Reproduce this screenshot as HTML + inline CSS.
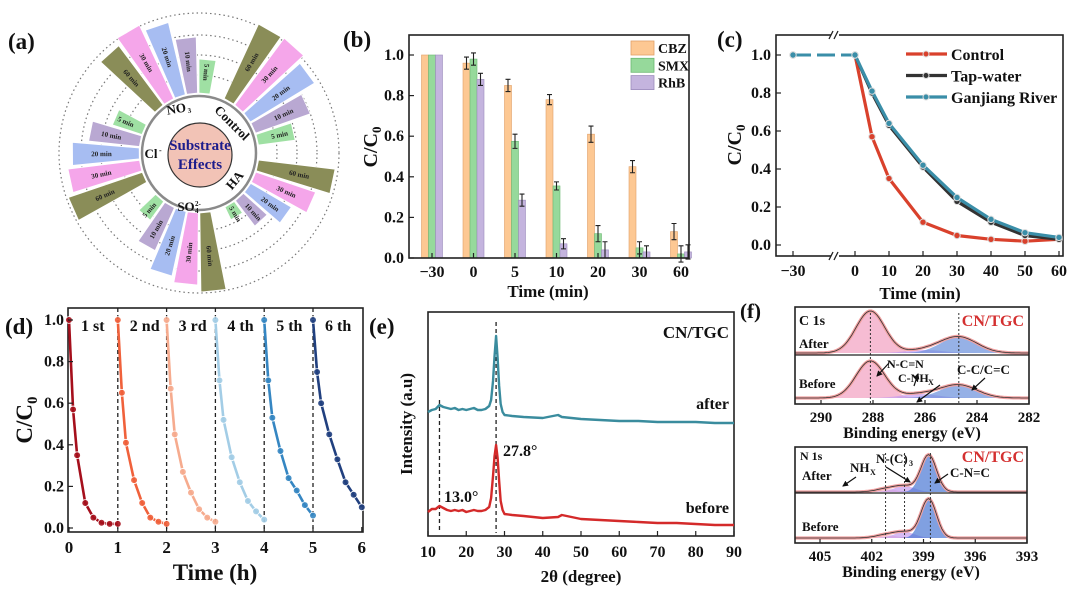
<!DOCTYPE html>
<html><head><meta charset="utf-8">
<style>
html,body{margin:0;padding:0;background:#fff;}
svg{display:block;font-family:"Liberation Serif",serif;font-weight:bold;}
</style></head>
<body>
<svg id="fig" width="1080" height="591" viewBox="0 0 1080 591" xmlns="http://www.w3.org/2000/svg">
<rect x="0" y="0" width="1080" height="591" fill="#fff"/>
<g id="ga"></g>
<g id="gb"></g>
<g id="gc"></g>
<g id="gd"></g>
<g id="ge"></g>
<g id="gf"></g>
</svg>
<script>
// ---------- DATA ----------
const aGroups = ["Control","HA","SO4","Cl","NO3"];
const aTimes = ["60 min","30 min","20 min","10 min","5 min"];
const aControl = [142,143,135,118,97];
const aHA = [137,123,107,92,74];
const aSO4 = [139,132,126,107,83];
const aCl = [138,132,127,111,91];
const aNO3 = [134,141,134,116,94];
const bCats = ["\u221230","0","5","10","20","30","60"];
const bCBZ = [1,0.96,0.85,0.78,0.61,0.45,0.13];
const bSMX = [1,0.98,0.575,0.355,0.12,0.05,0.02];
const bRhB = [1,0.88,0.285,0.07,0.04,0.03,0.03];
const bCBZerr = [0,0.03,0.03,0.025,0.04,0.03,0.04];
const bSMXerr = [0,0.03,0.035,0.02,0.04,0.03,0.04];
const bRhBerr = [0,0.03,0.03,0.025,0.04,0.03,0.035];
const bYTicks = [0,0.2,0.4,0.6,0.8,1.0];
const cTimes = [-30,0,5,10,20,30,40,50,60];
const cControl = [1,1,0.57,0.35,0.12,0.05,0.03,0.02,0.03];
const cTap = [1,1,0.80,0.63,0.41,0.23,0.12,0.05,0.03];
const cRiver = [1,1,0.81,0.64,0.42,0.25,0.135,0.065,0.04];
const cXTicks = [-30,0,10,20,30,40,50,60];
const dTimes = [0,5,10,20,30,40,50,60];
const dCycle1 = [1,0.57,0.35,0.12,0.05,0.025,0.02,0.02];
const dCycle2 = [1,0.65,0.41,0.23,0.12,0.05,0.03,0.02];
const dCycle3 = [1,0.67,0.45,0.27,0.17,0.09,0.05,0.03];
const dCycle4 = [1,0.71,0.52,0.34,0.22,0.13,0.08,0.04];
const dCycle5 = [1,0.71,0.53,0.37,0.24,0.18,0.11,0.06];
const dCycle6 = [1,0.75,0.60,0.45,0.33,0.22,0.16,0.10];
const dLabels = ["1 st","2 nd","3 rd","4 th","5 th","6 th"];
const eAngles = [10,11,12,13,14,15,16,17,18,19,20,21,22,23,24,25,26,26.5,27,27.4,27.8,28.2,28.6,29,29.5,30,32,35,40,44,45,50,55,60,65,70,75,80,85,90];
const eAfter = [124,126,127,131,129,128,127,128,126,127,126,127,128,126,126,127,130,136,155,180,200,178,150,132,124,121,120,119,118,121,119,117,116,115,115,114,114,114,113,113];
const eBefore = [24,27,27,30,28,26,25,26,25,26,24,25,26,25,25,26,29,38,60,80,91,78,55,35,26,22,21,20,18,19,21,17,16,15,14,13,13,12,11,11];
const fC1sAfter = [[288.1,42,0.55],[286.0,3,0.7],[284.7,16,0.7]];
const fC1sBefore = [[288.1,37,0.55],[286.2,4,0.7],[284.7,13,0.7]];
const fN1sAfter = [[401.2,3,0.6],[400.1,6,0.6],[398.7,37,0.45]];
const fN1sBefore = [[401.2,3,0.6],[400.1,6,0.6],[398.7,39,0.45]];

const NS="http://www.w3.org/2000/svg";
function mk(parent,tag,attrs,txt){const e=document.createElementNS(NS,tag);for(const k in attrs)e.setAttribute(k,attrs[k]);if(txt!==undefined)e.textContent=txt;parent.appendChild(e);return e;}
function T(parent,x,y,s,size,anchor,fill,extra){const e=mk(parent,"text",Object.assign({x:x,y:y,"font-size":size,"text-anchor":anchor||"start",fill:fill||"#111"},extra||{}),s);return e;}
function frame(g,x0,y0,x1,y1){const r=mk(g,"rect",{x:x0,y:y0,width:x1-x0,height:y1-y0,fill:"none",stroke:"#222","stroke-width":1.6});

return r;}

// ---------- PANEL A ----------
(function(){
const g=document.getElementById("ga");
const cx=199,cy=153;
const lab=T(g,8,49,"(a)",23,"start","#111");


[78,98,118,140].forEach(r=>{const c=mk(g,"circle",{cx:cx,cy:cy,r:r,fill:"none",stroke:"#777","stroke-width":1.2,"stroke-dasharray":"1.5 3"});

});
const cols=["#8a8d58","#f5a6ea","#a7bdf2","#b9a8d2","#9fe0a3"];
const groupVals=[aControl,aHA,aSO4,aCl,aNO3];
const r0=60,hw=5.2;
groupVals.forEach((vals,gi)=>{
 vals.forEach((r1,j)=>{
  const th=30+72*gi+11.8*j;
  const p=(a,r)=>{const rad=(a-90)*Math.PI/180;return [cx+r*Math.cos(rad),cy+r*Math.sin(rad)];};
  const A=p(th-hw,r0),B=p(th-hw,r1),C=p(th+hw,r1),D=p(th+hw,r0);
  const w=mk(g,"path",{d:`M${A}L${B}L${C}L${D}Z`,fill:cols[j],stroke:"#fff","stroke-width":0.8});
  
  
  const m=p(th,(r0+r1)/2+4);
  const rot=th<=180?th-90:th+90;
  const t=T(g,m[0],m[1]+2.5,aTimes[j],7,"middle","#222",{transform:`rotate(${rot} ${m[0]} ${m[1]})`});
  
  
 });
});
const ring=mk(g,"circle",{cx:cx,cy:cy,r:57,fill:"#fff",stroke:"#8a8a8a","stroke-width":2.5});


const core=mk(g,"circle",{cx:cx+1,cy:cy+2,r:32,fill:"#f2c3b6",stroke:"#333","stroke-width":1.2});


const t1=T(g,cx+1,cy-3,"Substrate",15,"middle","#1c1c8c");


const t2=T(g,cx+1,cy+16,"Effects",15,"middle","#1c1c8c");


const gl=[["Control",229,126,45,13],["HA",238,183,-50,13],["SO",186,211,0,13],["Cl",151,158,0,13],["NO",177,113,-10,13]];
gl.forEach(d=>{const t=T(g,d[1],d[2],d[0],d[4],"middle","#111",{transform:`rotate(${d[3]} ${d[1]} ${d[2]})`});

});
const s1=T(g,195,206,"2-",7,"start","#111");
const s2=T(g,195,213,"4",7,"start","#111");
const s3=T(g,159,153,"-",8,"start","#111");
const s4=T(g,188,115,"3",7,"start","#111",{transform:"rotate(-10 177 113)"});
})();

// ---------- PANEL B ----------
(function(){
const g=document.getElementById("gb");
const x0=409,x1=689,yt=35,yb=258,y1=55;
const ys=v=>yb-(yb-y1)*v;
const xc=i=>432+41.5*i;
const lab=T(g,343,47,"(b)",23);
const series=[[bCBZ,bCBZerr,"#fdc893","#e0a068","cbz"],[bSMX,bSMXerr,"#96d99b","#6bb872","smx"],[bRhB,bRhBerr,"#c4b4de","#9c8cbc","rhb"]];
const bw=7;
series.forEach((s,si)=>{
 s[0].forEach((v,i)=>{
  const x=xc(i)+(si-1)*bw-bw/2;
  const r=mk(g,"rect",{x:x,y:ys(v),width:bw,height:yb-ys(v),fill:s[2],stroke:s[3],"stroke-width":0.6});
  
  
  const e=s[1][i];
  if(e>0){const cxp=x+bw/2;
   const el=mk(g,"path",{d:`M${cxp},${ys(v+e)}V${ys(v-e)}M${cxp-2.5},${ys(v+e)}H${cxp+2.5}M${cxp-2.5},${ys(v-e)}H${cxp+2.5}`,stroke:"#222","stroke-width":1.1,fill:"none"});
   
   }
 });
});
frame(g,x0,yt,x1,yb);
bYTicks.forEach(v=>{const tk=mk(g,"line",{x1:x0,x2:x0+5,y1:ys(v),y2:ys(v),stroke:"#222","stroke-width":1.2});

const t=T(g,x0-5,ys(v)+5,v.toFixed(1),16,"end");});
bCats.forEach((c,i)=>{const tk=mk(g,"line",{x1:xc(i),x2:xc(i),y1:yb,y2:yb-5,stroke:"#222","stroke-width":1.2});

const t=T(g,xc(i),yb+19,c,16,"middle");});
const xt=T(g,548,297,"Time (min)",17,"middle");
const yt2=mk(g,"text",{x:0,y:0,"font-size":20,"text-anchor":"middle",transform:"translate(377,147) rotate(-90)",fill:"#111"});
yt2.innerHTML='C/C<tspan font-size="13" dy="4">0</tspan>';

const names=["CBZ","SMX","RhB"];
series.forEach((s,si)=>{const y=41+17.3*si;
 const r=mk(g,"rect",{x:631,y:y,width:23,height:14,fill:s[2],stroke:s[3],"stroke-width":0.8});
 
 const t=T(g,658,y+12,names[si],14);});
})();

// ---------- PANEL C ----------
(function(){
const g=document.getElementById("gc");
const x0=776,x1=1063,yt=35,yb=256;
const ys=v=>245-190*v;
const xs=t=>t<0?793:855+3.4*t;
const lab=T(g,717,47,"(c)",23);
frame(g,x0,yt,x1,yb);
[[835,yt],[835,yb]].forEach(p=>{const w=mk(g,"rect",{x:p[0]-4,y:p[1]-3,width:8,height:6,fill:"#fff"});
const b=mk(g,"path",{d:`M${p[0]-6},${p[1]+4}L${p[0]-2},${p[1]-4}M${p[0]-1},${p[1]+4}L${p[0]+3},${p[1]-4}`,stroke:"#222","stroke-width":1.3,fill:"none"});});
const ser=[[cRiver,"#3a8ea8","ganjiang-river"],[cTap,"#333","tap-water"],[cControl,"#d9412c","control"]];
[ser[2],ser[1],ser[0]].forEach(s=>{
 const pts=s[0].map((v,i)=>[xs(cTimes[i]),ys(v)]);
 const dash=mk(g,"line",{x1:pts[0][0],y1:pts[0][1],x2:pts[1][0],y2:pts[1][1],stroke:s[1],"stroke-width":3,"stroke-dasharray":"18 6"});
 
 const pl=mk(g,"polyline",{points:pts.slice(1).map(p=>p.join(",")).join(" "),fill:"none",stroke:s[1],"stroke-width":3.2});
 
 pts.forEach(p=>{const c=mk(g,"circle",{cx:p[0],cy:p[1],r:3.2,fill:s[1],stroke:"#ddd","stroke-width":1});
 });
});
bYTicks.forEach(v=>{const tk=mk(g,"line",{x1:x0,x2:x0+5,y1:ys(v),y2:ys(v),stroke:"#222","stroke-width":1.2});
const t=T(g,x0-5,ys(v)+5,v.toFixed(1),16,"end");});
cXTicks.forEach(v=>{const x=xs(v);const tk=mk(g,"line",{x1:x,x2:x,y1:yb,y2:yb-5,stroke:"#222","stroke-width":1.2});
const t=T(g,x,yb+20,v<0?"\u2212"+(-v):String(v),16,"middle");});
const xt=T(g,920,299,"Time (min)",17,"middle");
const yt2=mk(g,"text",{x:0,y:0,"font-size":20,"text-anchor":"middle",transform:"translate(741,145) rotate(-90)",fill:"#111"});
yt2.innerHTML='C/C<tspan font-size="13" dy="4">0</tspan>';
const ln=[["Control","#d9412c"],["Tap-water","#333"],["Ganjiang River","#3a8ea8"]];
ln.forEach((l,i)=>{const y=54+21.5*i;
 const s=mk(g,"line",{x1:906,x2:947,y1:y,y2:y,stroke:l[1],"stroke-width":3.2});
 const c=mk(g,"circle",{cx:926,cy:y,r:3,fill:l[1],stroke:"#ddd","stroke-width":1});
 const t=T(g,951,y+6,l[0],16);});
})();

// ---------- PANEL D ----------
(function(){
const g=document.getElementById("gd");
const x0=68,x1=363,yt=308,yb=532;
const xs=h=>69+48.8*h, ys=v=>528-208*v;
const lab=T(g,5,334,"(d)",23);
frame(g,x0,yt,x1,yb);
const cyc=[dCycle1,dCycle2,dCycle3,dCycle4,dCycle5,dCycle6];
const cols=["#a50f1c","#f0613b","#f6ab8e","#a3cde6","#3586c2","#21407f"];
[1,2,3,4,5].forEach(k=>{const l=mk(g,"line",{x1:xs(k),x2:xs(k),y1:yt,y2:yb,stroke:"#222","stroke-width":1.3,"stroke-dasharray":"4 3"});});
cyc.forEach((c,k)=>{
 const pts=c.map((v,i)=>[xs(k+dTimes[i]/60),ys(v)]);
 const pl=mk(g,"polyline",{points:pts.map(p=>p.join(",")).join(" "),fill:"none",stroke:cols[k],"stroke-width":2.6});
 
 pts.forEach(p=>{const m=mk(g,"circle",{cx:p[0],cy:p[1],r:3.4,fill:cols[k],stroke:"#fff","stroke-width":0.8,"fill-opacity":0.9});});
 const t=T(g,xs(k)+12,331,dLabels[k],16);
});
bYTicks.forEach(v=>{const tk=mk(g,"line",{x1:x0,x2:x0+5,y1:ys(v),y2:ys(v),stroke:"#222","stroke-width":1.2});
const t=T(g,x0-4,ys(v)+5,v.toFixed(1),16,"end");});
[0,1,2,3,4,5,6].forEach(v=>{const tk=mk(g,"line",{x1:xs(v),x2:xs(v),y1:yb,y2:yb-5,stroke:"#222","stroke-width":1.2});
const t=T(g,xs(v),yb+21,String(v),17,"middle");});
const xt=T(g,215,580,"Time (h)",23,"middle");
const yt2=mk(g,"text",{x:0,y:0,"font-size":23,"text-anchor":"middle",transform:"translate(32,420) rotate(-90)",fill:"#111"});
yt2.innerHTML='C/C<tspan font-size="15" dy="5">0</tspan>';
})();

// ---------- PANEL E ----------
(function(){
const g=document.getElementById("ge");
const x0=428,x1=734,yt=312,yb=536;
const xs=a=>428+(a-10)*306/80, ys=v=>yb-v;
const lab=T(g,369,334,"(e)",23);
frame(g,x0,yt,x1,yb);
[[13,400],[27.8,322]].forEach(d=>{const l=mk(g,"line",{x1:xs(d[0]),x2:xs(d[0]),y1:d[1],y2:533,stroke:"#222","stroke-width":1.3,"stroke-dasharray":"4 3"});});
[[eAfter,"#3a8c9e","after"],[eBefore,"#d42a2a","before"]].forEach(s=>{
 const pl=mk(g,"polyline",{points:s[0].map((v,i)=>xs(eAngles[i])+","+ys(v)).join(" "),fill:"none",stroke:s[1],"stroke-width":2.4,"stroke-linejoin":"round"});
 });
[10,20,30,40,50,60,70,80,90].forEach(v=>{const tk=mk(g,"line",{x1:xs(v),x2:xs(v),y1:yb,y2:yb-5,stroke:"#222","stroke-width":1.2});
const t=T(g,xs(v),yb+21,String(v),16,"middle");});
const xt=T(g,581,582,"2\u03b8 (degree)",17,"middle");
const yt2=T(g,0,0,"Intensity (a.u)",17,"middle","#111",{transform:"translate(412,424) rotate(-90)"});
[["CN/TGC",729,338,17,"end"],["after",729,409,16,"end"],["before",729,513,16,"end"],["27.8\u00b0",503,456,16,"start"],["13.0\u00b0",444,502,16,"start"]].forEach(d=>{
 const t=T(g,d[1],d[2],d[0],d[3],d[4]);});
})();

// ---------- PANEL F ----------
(function(){
const g=document.getElementById("gf");
const lab=T(g,740,318,"(f)",21);
function sub(cfg){
 const {x0,x1,yt,yb,ysep,eL,eR,ticks,after,before,baseA,baseB,name,lines}=cfg;
 const xs=e=>x0+(eL-e)*(x1-x0)/(eL-eR);
 const N=120;
 const cols=name==="N"?["#f2b0c8","#c69cf0","#4a78d4"]:["#f2a0c0","#c69cf0","#6a90dc"];
 [[after,baseA],[before,baseB]].forEach((pair)=>{
  const peaks=pair[0],base=pair[1];
  peaks.forEach((pk,k)=>{
   let d="";for(let i=0;i<=N;i++){const e=eL-(eL-eR)*i/N;const v=pk[1]*Math.exp(-Math.pow(e-pk[0],2)/(2*pk[2]*pk[2]));d+=(i?"L":"M")+xs(e).toFixed(1)+","+(base-v).toFixed(1);}
   d+=`L${xs(eR)},${base}L${xs(eL)},${base}Z`;
   const p=mk(g,"path",{d:d,fill:cols[k],"fill-opacity":0.7,stroke:"none"});
   
  });
  let d="";for(let i=0;i<=N;i++){const e=eL-(eL-eR)*i/N;let v=0;peaks.forEach(pk=>{v+=pk[1]*Math.exp(-Math.pow(e-pk[0],2)/(2*pk[2]*pk[2]));});d+=(i?"L":"M")+xs(e).toFixed(1)+","+(base-v).toFixed(1);}
  const env=mk(g,"path",{d:d,fill:"none",stroke:"#f0a0a0","stroke-width":3.2});
  
  const env2=mk(g,"path",{d:d,fill:"none",stroke:"#333","stroke-width":0.8});
  
 });
 lines.forEach(e=>{const l=mk(g,"line",{x1:xs(e),x2:xs(e),y1:yt+6,y2:yb,stroke:"#333","stroke-width":1,"stroke-dasharray":"2 2"});});
 frame(g,x0,yt,x1,yb);
 const sp=mk(g,"line",{x1:x0,x2:x1,y1:ysep,y2:ysep,stroke:"#222","stroke-width":1.2});
 ticks.forEach(v=>{const tk=mk(g,"line",{x1:xs(v),x2:xs(v),y1:yb,y2:yb-4,stroke:"#222","stroke-width":1.2});
  const t=T(g,xs(v),yb+18,String(v),15,"middle");});
 const xt=T(g,(x0+x1)/2,yb+34,"Binding energy (eV)",16,"middle");
}
sub({x0:795,x1:1029,yt:307,yb:404,ysep:355,eL:291,eR:282,ticks:[290,288,286,284,282],after:fC1sAfter,before:fC1sBefore,baseA:353,baseB:398,name:"C",lines:[288.1,284.7]});
sub({x0:795,x1:1027,yt:447,yb:543,ysep:493,eL:406.45,eR:393,ticks:[405,402,399,396,393],after:fN1sAfter,before:fN1sBefore,baseA:492,baseB:538,name:"N",lines:[401.2,400.1,398.6]});
const ann=[["C 1s",799,325,14,"#111","start"],["After",799,348,13,"#111","start"],["Before",799,388,13,"#111","start"],["CN/TGC",1024,326,16,"#d43030","end"],
["N-C=N",887,368,12,"#111","start"],["C-NH",898,382,12,"#111","start"],["C-C/C=C",957,374,13,"#111","start"],
["N 1s",800,460,12,"#111","start"],["After",802,480,13,"#111","start"],["Before",802,531,13,"#111","start"],["CN/TGC",1024,462,16,"#d43030","end"],
["NH",850,472,13,"#111","start"],["N-(C)",876,463,13,"#111","start"],["C-N=C",950,477,13,"#111","start"]];
ann.forEach(d=>{const t=T(g,d[1],d[2],d[0],d[3],d[5],d[4]);});
[["X",928,385],["X",870,475],["3",909,466]].forEach(d=>{const t=T(g,d[1],d[2],d[0],8);});
[[889,363,877,376],[914,386,918,374],[940,385,917,402],[985,378,972,390],[856,477,843,486],[886,467,910,482],[948,474,935,483]].forEach(a=>{
 const l=mk(g,"line",{x1:a[0],y1:a[1],x2:a[2],y2:a[3],stroke:"#111","stroke-width":1.2,"marker-end":"url(#arr)"});});
})();
(function(){const s=document.getElementById("fig");const defs=document.createElementNS(NS,"defs");
defs.innerHTML='<marker id="arr" viewBox="0 0 6 6" refX="5" refY="3" markerWidth="5" markerHeight="5" orient="auto"><path d="M0,0L6,3L0,6Z" fill="#111"/></marker>';
s.insertBefore(defs,s.firstChild);})();
</script>
</body></html>
